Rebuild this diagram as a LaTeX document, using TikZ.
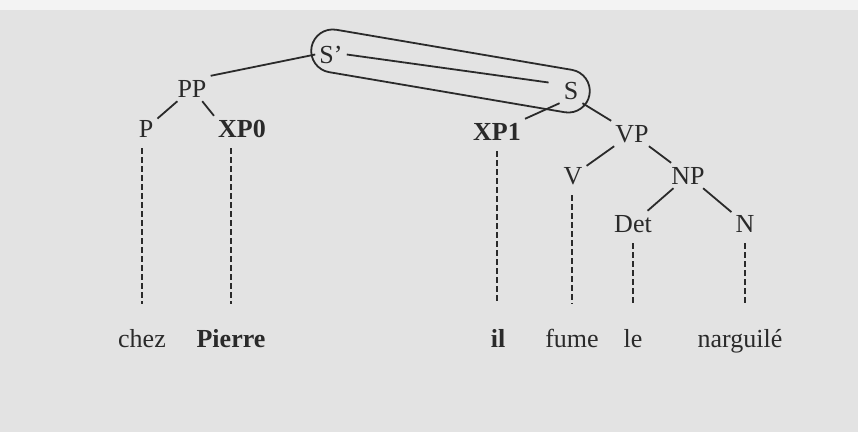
\documentclass[tikz,border=0pt]{standalone}
\usepackage{fontspec}
\setmainfont{Liberation Serif}
\usepackage{xcolor}
\usepackage{tikz}
\usetikzlibrary{shapes.misc}
\definecolor{ink}{HTML}{2A2A2A}
\definecolor{paper}{HTML}{E3E3E3}
\definecolor{margin}{HTML}{F3F3F3}
\begin{document}
\begin{tikzpicture}[x=1pt, y=-1pt, font=\fontsize{26}{30}\selectfont, every node/.style={anchor=base, inner sep=4pt, text=ink}, cat/.style={text height=17pt, text depth=0pt}, word/.style={text height=18pt, text depth=6pt}, branch/.style={draw=ink, line width=1.8pt}, gloss/.style={branch, line width=1.6pt, dash pattern=on 5.5pt off 3.5pt, shorten <=7pt, shorten >=21pt}]
	\useasboundingbox (0,0) rectangle (858,432);
	\fill[margin] (0,0) rectangle (858,10);
	\fill[paper] (0,10) rectangle (858,432);
	\node[cat](sp) at (331,63){S'};
	\node[cat](pp) at (192,97){PP};
	\node[cat](p) at (146,137){P};
	\node[cat, font=\fontsize{26}{30}\selectfont\bfseries](xp0) at (242,137){XP0};
	\node[cat](s) at (571,99){S};
	\node[cat, font=\fontsize{26}{30}\selectfont\bfseries](xp1) at (497,140){XP1};
	\node[cat](vp) at (632,142){VP};
	\node[cat](v) at (573,184){V};
	\node[cat](np) at (688,184){NP};
	\node[cat](det) at (633,232){Det};
	\node[cat](n) at (745,232){N};
	\node[word](chez) at (142,347){chez};
	\node[word, font=\fontsize{26}{30}\selectfont\bfseries](pierre) at (231,347){Pierre};
	\node[word, font=\fontsize{26}{30}\selectfont\bfseries](il) at (498,347){il};
	\node[word](fume) at (572,347){fume};
	\node[word](le) at (633,347){le};
	\node[word](narguile) at (740,347){narguilé};
	\node[draw=ink, line width=1.8pt, rounded rectangle, anchor=center, inner sep=0pt, minimum width=282pt, minimum height=43pt, rotate=-9.66](loop) at (450.5,71){};
	\draw[branch] (sp.west) -- (pp.north east);
	\draw[branch] (pp) -- (p);
	\draw[branch] (pp) -- (xp0.north west);
	\draw[branch] (sp.east) -- ([xshift=-11pt,yshift=8pt]s.west);
	\draw[branch] (s.south west) -- (xp1.north east);
	\draw[branch] (s.south east) -- (vp.north west);
	\draw[branch] (vp) -- (v);
	\draw[branch] (vp) -- (np);
	\draw[branch] (np) -- (det);
	\draw[branch] (np) -- (n);
	\draw[gloss] (chez.north |- p.south) -- (chez.north);
	\draw[gloss] (pierre.north |- xp0.south) -- (pierre.north);
	\draw[gloss] (xp1.south) -- (xp1.south |- il.north);
	\draw[gloss] (fume.north |- v.south) -- (fume.north);
	\draw[gloss] (det.south) -- (det.south |- le.north);
	\draw[gloss] (n.south) -- (n.south |- narguile.north);
\end{tikzpicture}
\end{document}
